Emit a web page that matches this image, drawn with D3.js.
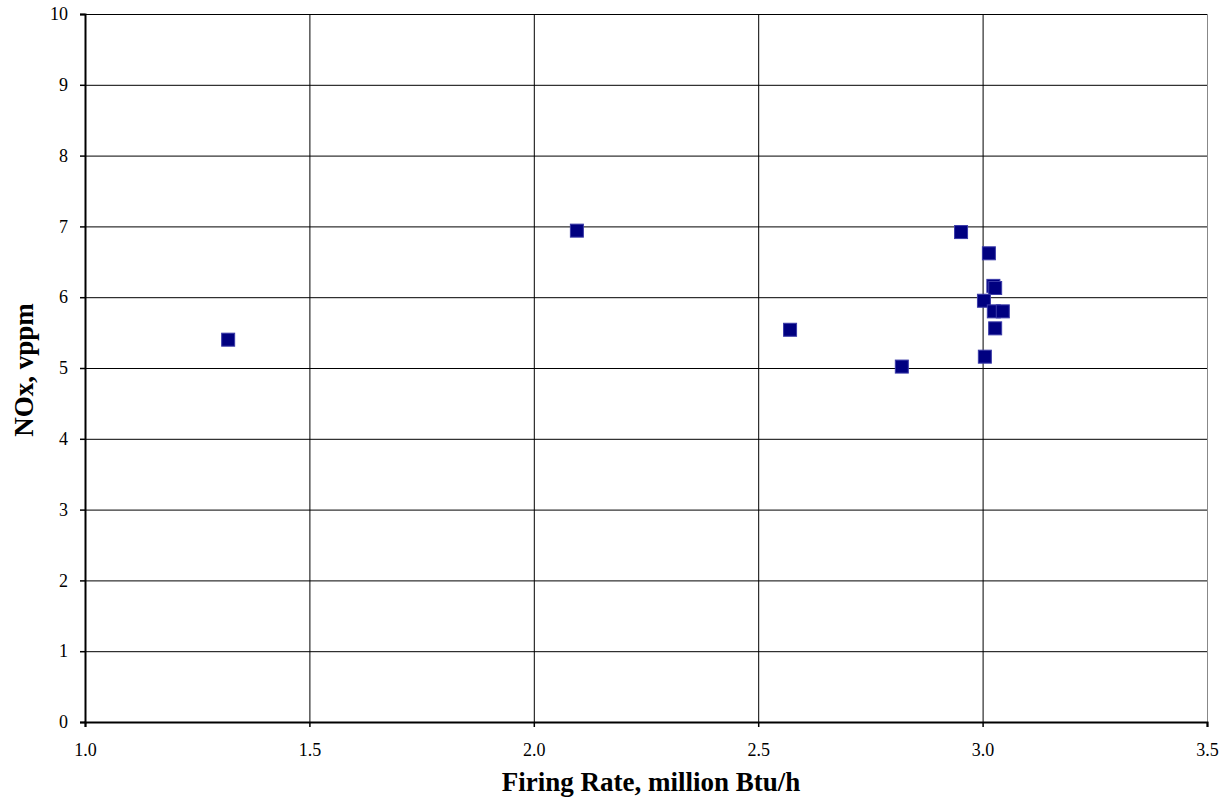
<!DOCTYPE html>
<html>
<head>
<meta charset="utf-8">
<script src="https://cdn.jsdelivr.net/npm/d3@7"></script>
<style>
  body { margin: 0; background: #fff; }
  svg text { font-family: "Liberation Serif", "Times New Roman", serif; fill: #000; }
  .tick text { font-size: 18px; }
</style>
</head>
<body>
<svg id="chart" width="1227" height="799"></svg>
<script>
// Firing rate (million Btu/h) and NOx (vppm)
var firingRate = [1.319, 2.096, 2.571, 2.820, 2.952, 3.014, 3.024, 3.028, 3.003, 3.025, 3.045, 3.028, 3.005];
var noxPpm     = [5.40, 6.94, 5.54, 5.02, 6.92, 6.62, 6.16, 6.13, 5.95, 5.80, 5.80, 5.56, 5.16];

var xTicks = [1.0, 1.5, 2.0, 2.5, 3.0, 3.5];
var yTicks = [0, 1, 2, 3, 4, 5, 6, 7, 8, 9, 10];

var points = firingRate.map(function(d, i) { return {x: d, y: noxPpm[i]}; });

// Plot area
var margin = {top: 14, left: 85, right: 20, bottom: 77};
var width = 1227 - margin.left - margin.right;
var height = 799 - margin.top - margin.bottom;

var svg = d3.select("#chart");
var g = svg.append("g")
    .attr("transform", `translate(${margin.left}, ${margin.top})`);

var x = d3.scaleLinear().domain([1.0, 3.5]).range([0, width]);
var y = d3.scaleLinear().domain([0, 10]).range([height, 0]);

// Grid lines
g.selectAll(".hgrid")
    .data(yTicks.filter(function(d) { return d > 0; }))
    .join("line")
    .attr("class", "hgrid")
    .attr("x1", 0).attr("x2", width)
    .attr("y1", function(d) { return y(d) + 0.5; })
    .attr("y2", function(d) { return y(d) + 0.5; })
    .attr("stroke", "#000").attr("stroke-width", 1);

g.selectAll(".vgrid")
    .data(xTicks.filter(function(d) { return d > 1.0; }))
    .join("line")
    .attr("class", "vgrid")
    .attr("y1", 0).attr("y2", height)
    .attr("x1", function(d) { return x(d) + 0.5; })
    .attr("x2", function(d) { return x(d) + 0.5; })
    .attr("stroke", function(d) { return d === 3.5 ? "#888" : "#000"; })
    .attr("stroke-width", 1);

// Axes
var xAxis = d3.axisBottom(x)
    .tickValues(xTicks)
    .tickFormat(d3.format(".1f"))
    .tickSize(5)
    .tickPadding(16);

var yAxis = d3.axisLeft(y)
    .tickValues(yTicks)
    .tickFormat(d3.format("d"))
    .tickSize(5)
    .tickPadding(12);

var gx = g.append("g")
    .attr("transform", `translate(0, ${height})`)
    .call(xAxis);

var gy = g.append("g").call(yAxis);

[gx, gy].forEach(function(a) {
    a.attr("font-family", "Liberation Serif").attr("font-size", 18);
    a.select(".domain").attr("stroke", "#000").attr("stroke-width", 2);
    a.selectAll(".tick line").attr("stroke", "#000").attr("stroke-width", 1.5);
    a.selectAll(".tick text").attr("fill", "#000");
});

// Markers
var size = 13;
g.selectAll(".pt")
    .data(points)
    .join("rect")
    .attr("class", "pt")
    .attr("x", function(d) { return x(d.x) - size / 2; })
    .attr("y", function(d) { return y(d.y) - size / 2; })
    .attr("width", size)
    .attr("height", size)
    .attr("fill", "#000080")
    .attr("stroke", "#3a3aa8")
    .attr("stroke-width", 1);

// Axis titles
svg.append("text")
    .attr("x", 651)
    .attr("y", 791)
    .attr("text-anchor", "middle")
    .style("font-size", "27px")
    .style("font-weight", "bold")
    .text("Firing Rate, million Btu/h");

svg.append("text")
    .attr("transform", `translate(33, ${margin.top + height / 2 + 2}) rotate(-90)`)
    .attr("text-anchor", "middle")
    .style("font-size", "27px")
    .style("font-weight", "bold")
    .text("NOx, vppm");
</script>
</body>
</html>
